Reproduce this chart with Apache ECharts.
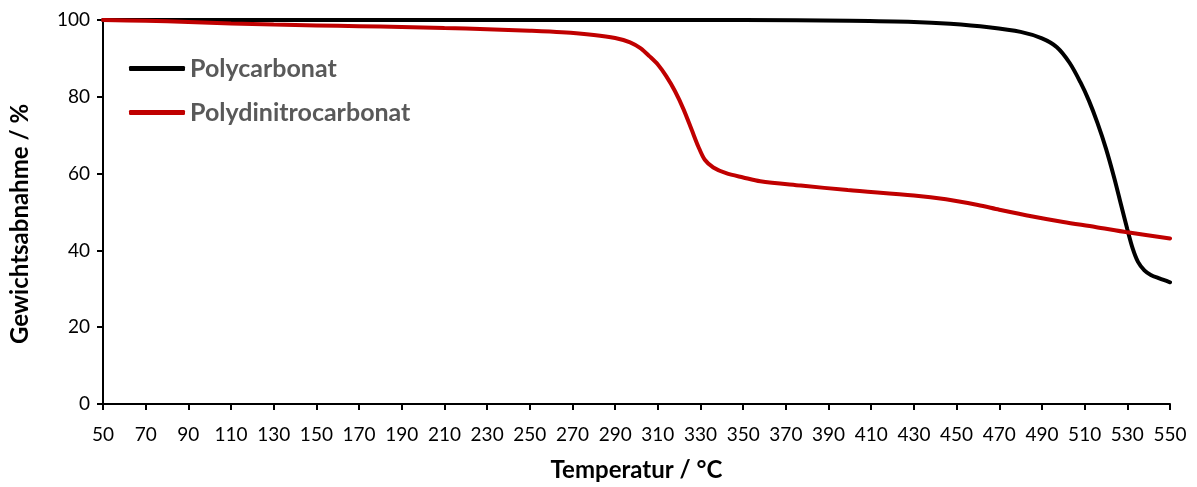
<!DOCTYPE html>
<html>
<head>
<meta charset="utf-8">
<script src="https://cdn.jsdelivr.net/npm/echarts@6/dist/echarts.min.js"></script>
<style>
html,body{margin:0;padding:0;background:#fff;}
#chart{width:1197px;height:487px;}
</style>
</head>
<body>
<div id="chart"></div>
<script>
const seriesNames = ['Polycarbonat', 'Polydinitrocarbonat'];
const pcTemp = [50, 100, 150, 200, 250, 300, 350, 400, 430, 447, 465, 480, 490, 497, 503, 508, 512, 516, 520, 524, 527, 530, 532.5, 535, 538, 541, 545, 550];
const pcMass = [100, 100, 100, 100, 100, 100, 100, 99.8, 99.5, 99.0, 98.1, 96.9, 95.2, 92.9, 88.8, 83.8, 79.0, 73.2, 66.5, 58.6, 52.0, 45.5, 40.5, 37.0, 34.8, 33.6, 32.7, 31.7];
const pdcTemp = [50, 70, 90, 110, 130, 150, 170, 190, 210, 230, 250, 265, 280, 290, 297, 302, 306, 310, 314, 318, 322, 326, 329, 332, 336, 342, 350, 358, 377, 399, 430, 445, 460, 470, 485, 500, 515, 530, 550];
const pdcMass = [100, 99.8, 99.5, 99.1, 98.8, 98.6, 98.4, 98.2, 97.9, 97.6, 97.2, 96.8, 96.1, 95.3, 94.2, 92.6, 90.6, 88.4, 85.3, 81.5, 76.8, 71.2, 67.0, 63.6, 61.6, 60.1, 59.0, 58.0, 56.9, 55.7, 54.3, 53.3, 51.8, 50.6, 48.9, 47.4, 46.1, 44.7, 43.1];
const xMin = 50, xMax = 550, xStep = 20;
const yMin = 0, yMax = 100, yStep = 20;

const zip = (a, b) => a.map((v, i) => [v, b[i]]);
const font = 'Lato, "Open Sans", sans-serif';

const chart = echarts.init(document.getElementById('chart'), null, {renderer: 'canvas'});
chart.setOption({
  animation: false,
  backgroundColor: '#fff',
  grid: {left: 101, right: 27, top: 20, bottom: 82, containLabel: false},
  legend: {
    orient: 'vertical',
    left: 124, top: 51,
    itemWidth: 56, itemHeight: 5,
    itemGap: 19,
    icon: 'roundRect',
    textStyle: {fontFamily: font, fontWeight: 'bold', fontSize: 25, color: '#595959', padding: [0, 0, 0, 0]},
    data: seriesNames
  },
  xAxis: {
    type: 'value', min: xMin, max: xMax, interval: xStep,
    name: 'Temperatur / °C', nameLocation: 'middle', nameGap: 54,
    nameTextStyle: {fontFamily: font, fontWeight: 'bold', fontSize: 24, color: '#000'},
    axisLine: {show: true, lineStyle: {color: '#000', width: 2}},
    axisTick: {show: true, inside: false, length: 6, lineStyle: {color: '#000', width: 2}},
    axisLabel: {fontFamily: font, fontSize: 19, color: '#000', margin: 21},
    splitLine: {show: false}
  },
  yAxis: {
    type: 'value', min: yMin, max: yMax, interval: yStep,
    name: 'Gewichtsabnahme / %', nameLocation: 'middle', nameGap: 71, nameRotate: 90,
    nameTextStyle: {fontFamily: font, fontWeight: 'bold', fontSize: 24, color: '#000', padding: [0, 24, 0, 0]},
    axisLine: {show: true, lineStyle: {color: '#000', width: 2}},
    axisTick: {show: true, inside: false, length: 6, lineStyle: {color: '#000', width: 2}},
    axisLabel: {fontFamily: font, fontSize: 19, color: '#000', margin: 13},
    splitLine: {show: false}
  },
  series: [
    {
      name: seriesNames[0], type: 'line', data: zip(pcTemp, pcMass),
      smooth: 0.3, showSymbol: false, symbol: 'none',
      lineStyle: {color: '#000000', width: 4, cap: 'round'},
      itemStyle: {color: '#000000'}, z: 3
    },
    {
      name: seriesNames[1], type: 'line', data: zip(pdcTemp, pdcMass),
      smooth: 0.3, showSymbol: false, symbol: 'none',
      lineStyle: {color: '#C00000', width: 4, cap: 'round'},
      itemStyle: {color: '#C00000'}, z: 4
    }
  ]
});
</script>
</body>
</html>
